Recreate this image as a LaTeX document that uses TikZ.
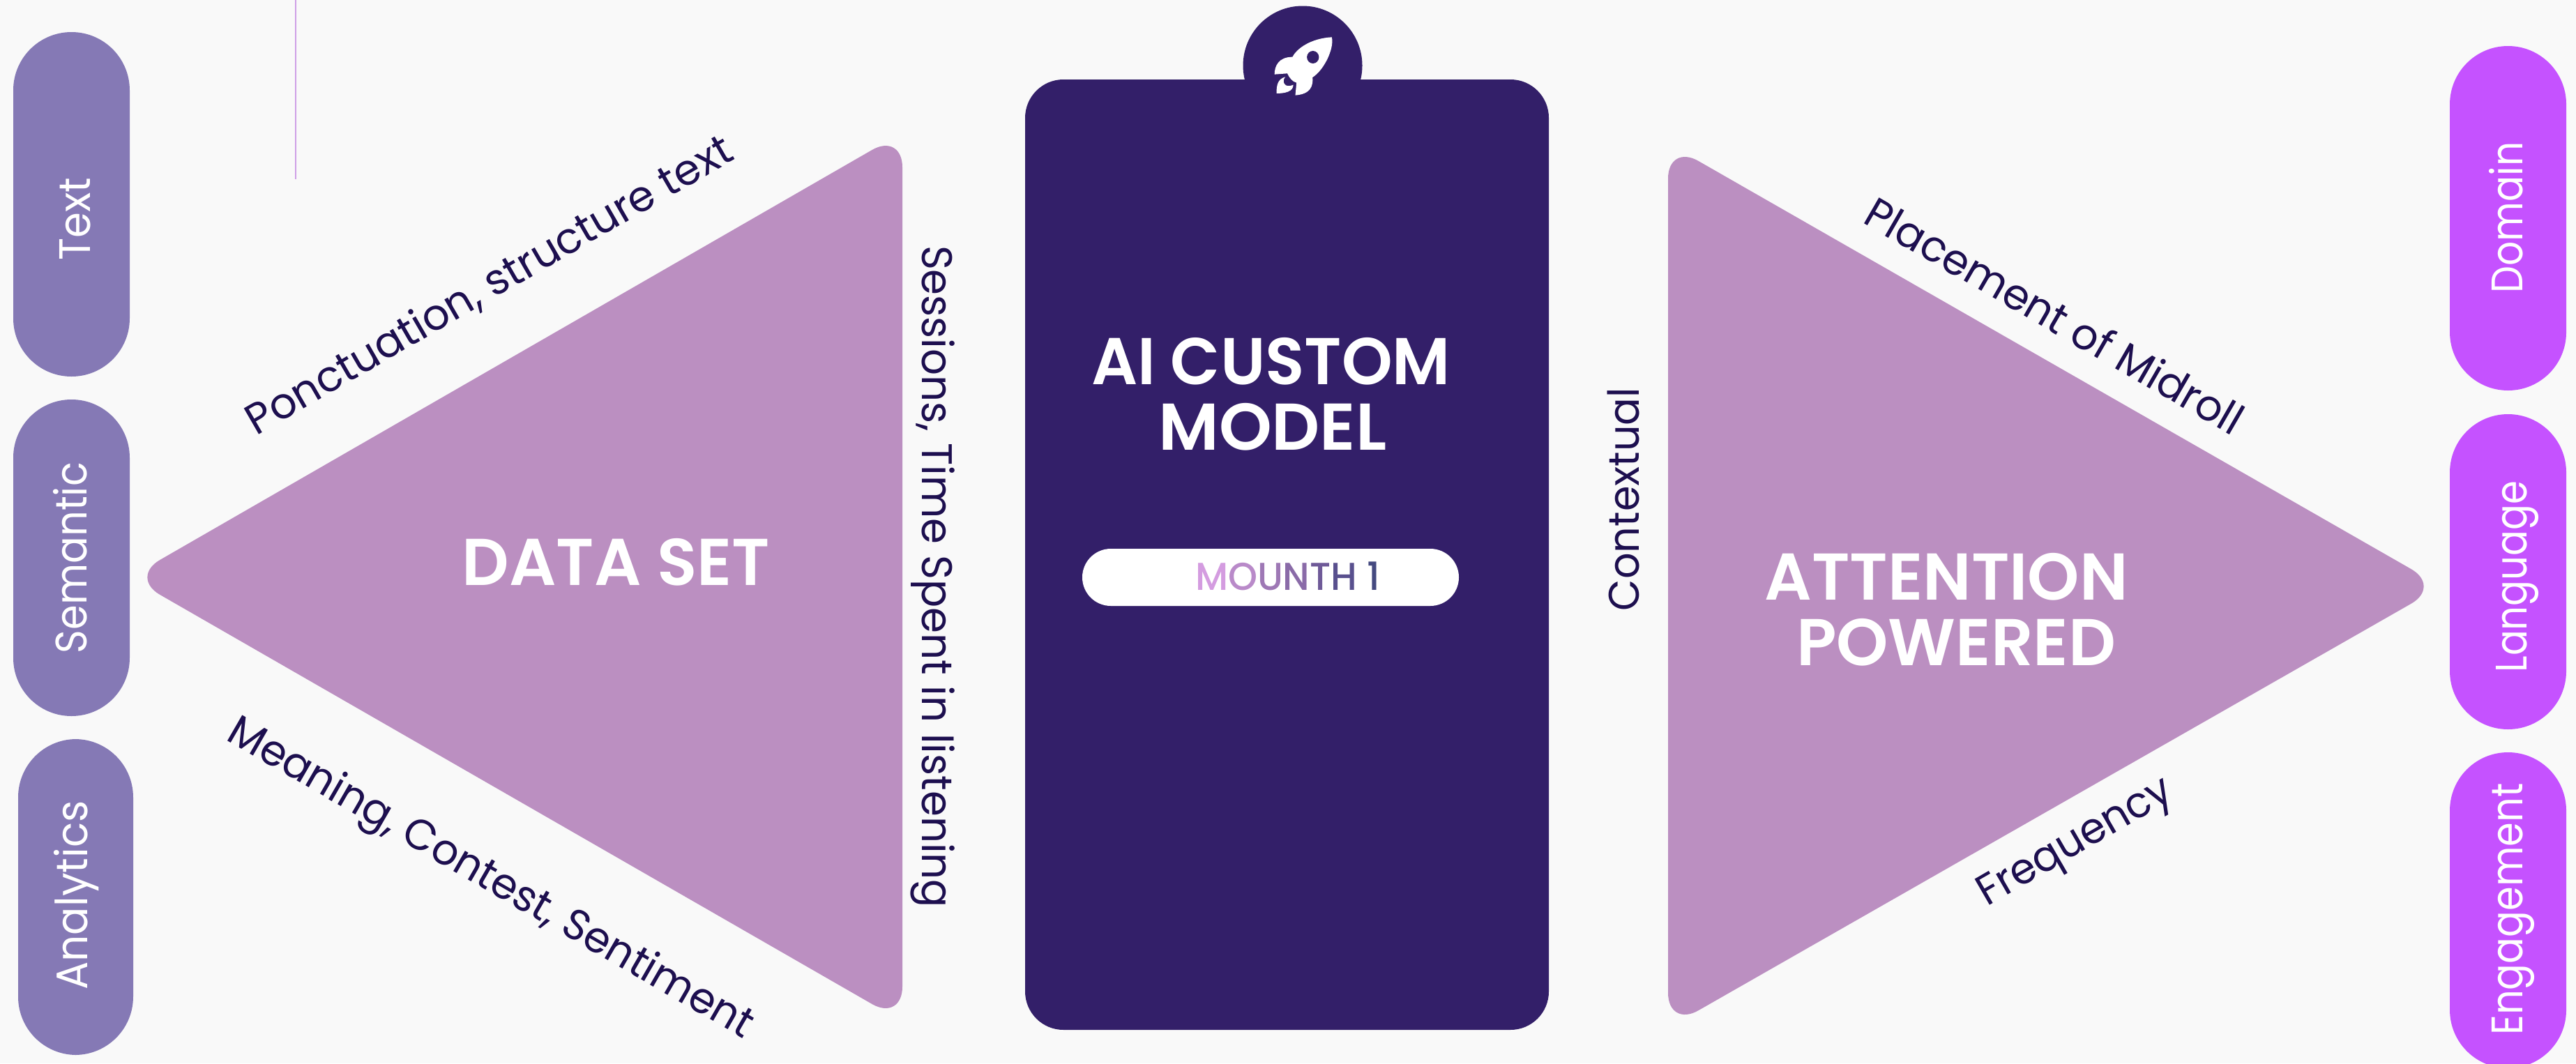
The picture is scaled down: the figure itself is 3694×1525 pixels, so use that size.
\documentclass[tikz,border=0pt]{standalone}
\usepackage{graphicx}
\usepackage{fontspec}
\setmainfont{Poppins}
\newfontfamily\medfont{Poppins Medium}
\newfontfamily\semifont{Poppins SemiBold}
\definecolor{bgc}{HTML}{F9F9F9}
\definecolor{navy}{HTML}{331F69}
\definecolor{ink}{HTML}{1D0F4F}
\definecolor{lilac}{HTML}{8579B5}
\definecolor{mauve}{HTML}{BB8FC1}
\definecolor{violet}{HTML}{C552FF}
\definecolor{rulec}{HTML}{CE9FE6}
\newcommand\fs[1]{\fontsize{#1}{#1}\selectfont}
% set a text to a given length in reference pixels, its height unchanged
\newcommand\fitpx[2]{\resizebox{\dimexpr 0.02cm*#1\relax}{\height}{#2}}
\tikzset{
  x=0.02cm,y=-0.02cm,
  pillbox/.style={fill=#1,draw=none,rounded corners=1.67cm},
  tri/.style={fill=mauve,draw=none,rounded corners=1cm},
  sidelabel/.style={text=white,inner sep=0,anchor=base,font=\fs{36}},
  armlabel/.style={text=ink,inner sep=0,font=\fs{35}},
  headlabel/.style={text=white,inner sep=0,anchor=base,font=\semifont\fs{54}},
}
\begin{document}
\begin{tikzpicture}
\useasboundingbox (0,0) rectangle (3694,1525);
\fill[bgc] (0,0) rectangle (3694,1525);
\begin{scope}
\clip (0,0) rectangle (3694,1525);
\draw[rulec,line width=0.6pt] (424,0) -- (424,257);
% left pills
\fill[pillbox=lilac] (19,46) rectangle (186,540);
\fill[pillbox=lilac] (19,573) rectangle (186,1027);
\fill[pillbox=lilac] (26,1060) rectangle (191,1513);
% right pills
\fill[pillbox=violet] (3513,66) rectangle (3680,560);
\fill[pillbox=violet] (3513,594) rectangle (3680,1046);
\fill[pillbox=violet] (3513,1079) rectangle (3680,1532);
% triangles
\fill[tri] (186,828) -- (1294,190) -- (1294,1465) -- cycle;
\fill[tri] (2392,206) -- (3501,841) -- (2392,1474) -- cycle;
% centre panel
\fill[navy] (1868,94) circle (85.5);
\fill[navy,rounded corners=1.1cm] (1470,114) rectangle (2221,1477);
\fill[white,rounded corners=0.82cm] (1552,787) rectangle (2092,869);
% rocket
\begin{scope}[shift={(1400,0)},xscale=0.574,yscale=0.3333]
\fill[white] (888,160) .. controls (835,165) and (800,210) .. (790,245)
  .. controls (755,245) and (745,285) .. (745,320) -- (777,316)
  .. controls (782,335) and (790,352) .. (800,356) -- (797,410)
  .. controls (835,405) and (842,370) .. (840,333)
  .. controls (870,300) and (895,205) .. (888,160) -- cycle;
\fill[navy] (841,246) ellipse [x radius=15,y radius=27];
\fill[white] (750,402) .. controls (750,370) and (752,340) .. (772,331)
  .. controls (762,350) and (770,382) .. (792,365)
  .. controls (792,395) and (770,402) .. (750,402) -- cycle;
\end{scope}
\end{scope}
\node[sidelabel,rotate=90] (ltext) at (129,314) {\fitpx{119}{Text}};
\node[sidelabel,rotate=90] (lsem) at (124,800) {\fitpx{274}{Semantic}};
\node[sidelabel,rotate=90] (lana) at (125,1284) {\fitpx{271}{Analytics}};
\node[sidelabel,rotate=90] (rdom) at (3617,312) {\fitpx{217}{Domain}};
\node[sidelabel,rotate=90] (rlang) at (3623,827) {\fitpx{275}{Language}};
\node[sidelabel,rotate=90] (reng) at (3617,1304) {\fitpx{361}{Engagement}};
\node[armlabel,rotate=-90] (sess) at (1338,827) {\scalebox{0.967}[1]{Sessions, Time Spent in listening}};
\node[armlabel,rotate=90] (ctx) at (2328,716) {\scalebox{0.957}[1]{Contextual}};
\node[armlabel,rotate=30] (ponc) at (702,410) {\scalebox{0.986}[1]{Ponctuation, structure text}};
\node[armlabel,rotate=-30] (mean) at (702,1262) {\scalebox{0.976}[1]{Meaning, Contest, Sentiment}};
\node[armlabel,rotate=-30] (plac) at (2947,452) {\scalebox{0.981}[1]{Placement of Midroll}};
\node[armlabel,rotate=30] (freq) at (2978,1211) {\scalebox{0.967}[1]{Frequency}};
\node[headlabel] (ds) at (883.5,839) {\fitpx{441}{DATA SET}};
\node[headlabel] (ai1) at (1822.5,551) {\fitpx{515}{AI CUSTOM}};
\node[headlabel] (ai2) at (1825,645) {\fitpx{327}{MODEL}};
\node[headlabel] (at1) at (2791,860) {\fitpx{521}{ATTENTION}};
\node[headlabel] (at2) at (2805,954) {\fitpx{458}{POWERED}};
\node[inner sep=0,anchor=base,font=\medfont\fs{31.7}] (mo) at (1846.5,846) {\fitpx{265}{\textcolor[HTML]{D49CE0}{M}\textcolor[HTML]{B98AC9}{O}\textcolor[HTML]{9E78B5}{U}\textcolor[HTML]{8A6BA8}{N}\textcolor[HTML]{6F5A98}{T}\textcolor[HTML]{59508E}{H}\ \textcolor[HTML]{454A80}{1}}};
\end{tikzpicture}
\end{document}
